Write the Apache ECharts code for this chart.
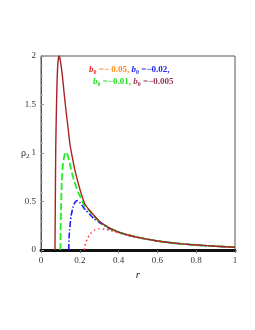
<!DOCTYPE html>
<html><head><meta charset="utf-8">
<script src="https://cdn.jsdelivr.net/npm/echarts@6/dist/echarts.min.js"></script>
<style>html,body{margin:0;padding:0;background:#fff}#c{width:255px;height:330px}</style>
</head><body><div id="c"></div>
<script>
// b0 = -0.005 (dark red, solid)
const rA = [0.072,0.073,0.074,0.076,0.079,0.083,0.088,0.094,0.1,0.11,0.12,0.13,0.14,0.15,0.16,0.175,0.2,0.225,0.25,0.3,0.35,0.4,0.45,0.5,0.6,0.7,0.8,0.9,1.0];
const vA = [0,0.25,0.55,1.05,1.4,1.75,1.95,2.0,1.95,1.8,1.6,1.42,1.25,1.08,0.97,0.82,0.63,0.48,0.41,0.30,0.23,0.185,0.155,0.13,0.093,0.068,0.051,0.039,0.029];
// b0 = -0.01 (green, dashed)
const rB = [0.1,0.101,0.103,0.107,0.113,0.12,0.128,0.135,0.145,0.155,0.17,0.19,0.2,0.22,0.25,0.3,0.35,0.4,0.45,0.5,0.6,0.7,0.8,0.9,1.0];
const vB = [0,0.2,0.4,0.7,0.88,0.97,1.01,0.99,0.92,0.83,0.72,0.6,0.56,0.47,0.40,0.295,0.228,0.184,0.154,0.13,0.093,0.068,0.051,0.039,0.029];
// b0 = -0.02 (blue, dash-dot)
const rC = [0.143,0.144,0.147,0.155,0.165,0.175,0.188,0.2,0.215,0.23,0.25,0.275,0.3,0.35,0.4,0.45,0.5,0.6,0.7,0.8,0.9,1.0];
const vC = [0,0.1,0.2,0.35,0.44,0.49,0.51,0.49,0.45,0.41,0.37,0.32,0.285,0.225,0.182,0.153,0.13,0.093,0.068,0.051,0.039,0.029];
// b0 = -0.05 (red, dotted)
const rD = [0.223,0.225,0.23,0.24,0.255,0.275,0.3,0.33,0.36,0.4,0.45,0.5,0.6,0.7,0.8,0.9,1.0];
const vD = [0,0.03,0.07,0.12,0.17,0.205,0.22,0.215,0.2,0.175,0.15,0.127,0.092,0.068,0.051,0.039,0.029];

const xTicks = [0,0.2,0.4,0.6,0.8,1];
const yTicks = [0,0.5,1,1.5,2];

const zip = (a,b)=>a.map((x,i)=>[x,b[i]]);
const chart = echarts.init(document.getElementById('c'), null, {renderer:'canvas'});
const serif = '"Liberation Serif","DejaVu Serif",serif';
function legendRich(c1, c2, c3) {
  const base = {fontFamily:serif,fontWeight:'bold',fontSize:9};
  const it = {fontFamily:serif,fontStyle:'italic',fontWeight:'bold',fontSize:9};
  const sub = {fontFamily:serif,fontWeight:'bold',fontSize:6,padding:[5,0,0,0]};
  return {
    b:Object.assign({fill:c1},it), s:Object.assign({fill:c1},sub), o:Object.assign({fill:c2},base),
    bb:Object.assign({fill:c3},it), sb:Object.assign({fill:c3},sub), ob:Object.assign({fill:c3},base)
  };
}
chart.setOption({
  animation:false,
  grid:{left:41,right:20,top:56,bottom:80,show:true,borderColor:'#555',borderWidth:1},
  xAxis:{type:'value',min:0,max:1,interval:0.2,
    name:'r',nameLocation:'middle',nameGap:20,
    nameTextStyle:{fontFamily:serif,fontStyle:'italic',fontSize:11,color:'#222'},
    axisLine:{lineStyle:{color:'#111',width:3}},
    axisTick:{show:true,length:3,lineStyle:{color:'#666',width:1}},
    minorTick:{show:false},
    splitLine:{show:false},
    axisLabel:{fontFamily:serif,fontSize:9,color:'#333',margin:6}},
  yAxis:{type:'value',min:0,max:2,interval:0.5,
    axisLine:{show:true,onZero:false,lineStyle:{color:'#555',width:1}},
    axisTick:{show:true,inside:true,length:3,lineStyle:{color:'#999'}},
    minorTick:{show:true,splitNumber:5,length:2,lineStyle:{color:'#bbb'}},
    splitLine:{show:false},
    axisLabel:{fontFamily:serif,fontSize:9,color:'#333',margin:5}},
  graphic:[
    {type:'text',left:21,top:148,style:{text:'{a|ρ}{s|2}',rich:{a:{fontFamily:serif,fontSize:10,fill:'#333'},s:{fontFamily:serif,fontSize:7,fill:'#333',padding:[6,0,0,0]}}}},
    {type:'text',left:89,top:65,style:{text:'{b|b}{s|0}{o| =− 0.05, }{bb|b}{sb|0}{ob| =−0.02,}',
      rich:legendRich('#ee2222','#ff8c1a','#2222ee')}},
    {type:'text',left:93,top:77,style:{text:'{b|b}{s|0}{o| =−0.01, }{bb|b}{sb|0}{ob| =−0.005}',
      rich:legendRich('#22dd22','#22dd22','#993355')}}
  ],
  series:[
    {type:'line',data:zip(rD,vD),showSymbol:false,smooth:0.2,lineStyle:{color:'#ff3333',width:1.5,type:[1.5,3]}},
    {type:'line',data:zip(rC,vC),showSymbol:false,smooth:0.2,lineStyle:{color:'#1f1fff',width:1.6,type:[6,2,1.5,2]}},
    {type:'line',data:zip(rB,vB),showSymbol:false,smooth:0.2,lineStyle:{color:'#22ee22',width:1.8,type:[7,3]}},
    {type:'line',data:zip(rA,vA),showSymbol:false,smooth:0.2,lineStyle:{color:'#a82222',width:1.4}}
  ]
});
</script></body></html>
